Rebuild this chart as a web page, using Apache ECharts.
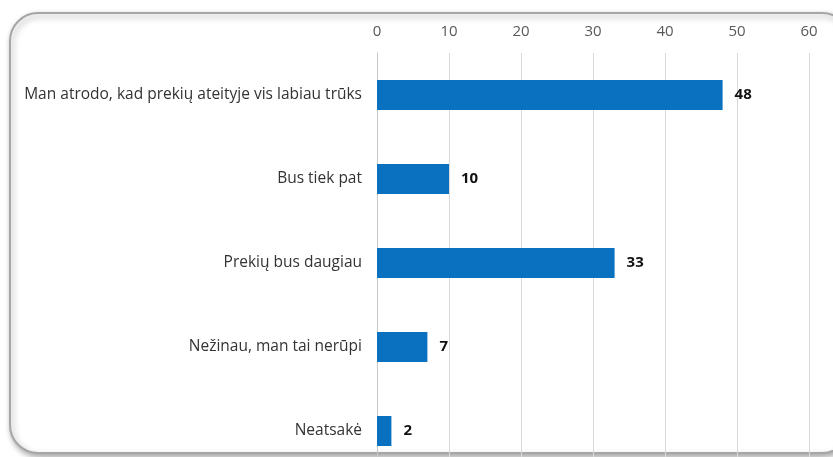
<!DOCTYPE html>
<html>
<head>
<meta charset="utf-8">
<script src="https://cdn.jsdelivr.net/npm/echarts@6/dist/echarts.min.js"></script>
<style>
  html, body { margin: 0; padding: 0; background: #fff; overflow: hidden; }
  #chart { width: 833px; height: 480px; }
</style>
</head>
<body>
<div id="chart"></div>
<script>
var categories = [
    'Man atrodo, kad prekių ateityje vis labiau trūks',
    'Bus tiek pat',
    'Prekių bus daugiau',
    'Nežinau, man tai nerūpi',
    'Neatsakė'
];
var values = [48, 10, 33, 7, 2];
var axisMin = 0;
var axisMax = 60;
var axisStep = 10;

var chart = echarts.init(document.getElementById('chart'));
chart.setOption({
    animation: false,
    textStyle: { fontFamily: 'Open Sans' },
    graphic: [{
        type: 'rect',
        z: -10,
        shape: { x: 10, y: 13, width: 840, height: 440, r: 28 },
        style: {
            fill: '#fff',
            stroke: '#a6a6a6',
            lineWidth: 2,
            shadowColor: 'rgba(0,0,0,0.35)',
            shadowBlur: 6,
            shadowOffsetX: 2,
            shadowOffsetY: 3
        }
    }],
    grid: { left: 377, right: 24, top: 53, height: 420 },
    xAxis: {
        type: 'value',
        position: 'top',
        min: axisMin,
        max: axisMax,
        interval: axisStep,
        axisLine: { show: false },
        axisTick: { show: false },
        axisLabel: { color: '#595959', fontSize: 15, margin: 14 },
        splitLine: { lineStyle: { color: '#d9d9d9', width: 1 } }
    },
    yAxis: {
        type: 'category',
        inverse: true,
        data: categories,
        axisLine: { lineStyle: { color: '#c8c8c8' } },
        axisTick: { show: false },
        axisLabel: { color: '#333', fontSize: 15.5, margin: 15 }
    },
    series: [{
        type: 'bar',
        data: values,
        barWidth: 30,
        itemStyle: { color: '#0a70c0' },
        label: {
            show: true,
            position: 'right',
            distance: 12,
            color: '#111',
            fontWeight: 'bold',
            fontSize: 15
        }
    }]
});
</script>
</body>
</html>
